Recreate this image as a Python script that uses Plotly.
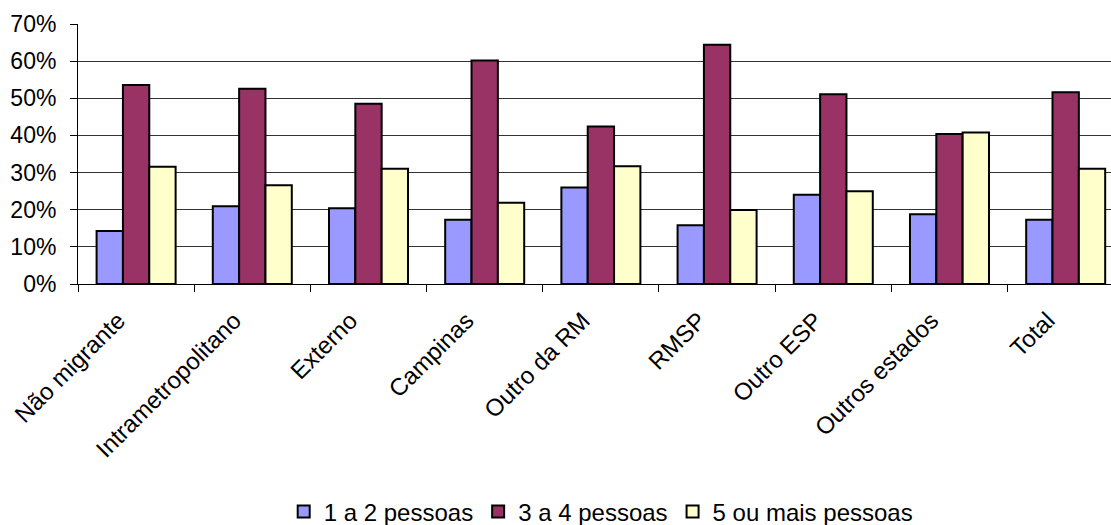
import plotly.graph_objects as go

# Categories of migration status
categorias = ["Não migrante", "Intrametropolitano", "Externo", "Campinas",
              "Outro da RM", "RMSP", "Outro ESP", "Outros estados", "Total"]

# Share of households by household size (fractions)
pessoas_1a2 = [0.143, 0.209, 0.204, 0.173, 0.260, 0.158, 0.240, 0.188, 0.173]
pessoas_3a4 = [0.536, 0.526, 0.485, 0.602, 0.424, 0.644, 0.511, 0.404, 0.516]
pessoas_5mais = [0.316, 0.266, 0.310, 0.219, 0.317, 0.199, 0.250, 0.408, 0.310]

series = [
    ("1 a 2 pessoas", pessoas_1a2, "#9999FF"),
    ("3 a 4 pessoas", pessoas_3a4, "#993366"),
    ("5 ou mais pessoas", pessoas_5mais, "#FFFFCC"),
]

FONT = "Liberation Sans, Arial, sans-serif"

fig = go.Figure()
for nome, valores, cor in series:
    fig.add_trace(go.Bar(
        x=categorias, y=valores, name=nome,
        marker=dict(color=cor, line=dict(color="black", width=2)),
    ))

fig.update_layout(
    width=1111, height=525,
    margin=dict(l=78, r=0, t=24, b=241, autoexpand=False),
    paper_bgcolor="white", plot_bgcolor="white",
    barmode="group", bargap=0.32, bargroupgap=0,
    font=dict(family=FONT, size=22, color="black"),
    showlegend=True,
    legend=dict(
        orientation="h", x=0.506, xanchor="center", y=-0.877, yanchor="middle",
        font=dict(family=FONT, size=24, color="black"),
        itemwidth=30, tracegroupgap=0,
    ),
)

fig.update_xaxes(
    range=[-0.5, 8.39], automargin=False,
    tickangle=-45,
    tickfont=dict(family=FONT, size=24, color="black"),
    ticks="outside", tickson="boundaries", ticklen=7, tickcolor="black",
    ticklabelshift=-18, ticklabelstandoff=12,
    showline=True, linecolor="black", linewidth=1,
    showgrid=False,
)

fig.update_yaxes(
    range=[0, 0.7], dtick=0.1, tickformat=".0%", automargin=False,
    tickfont=dict(family=FONT, size=23, color="black"),
    ticks="outside", ticklen=7, tickcolor="black", ticklabelstandoff=9,
    showline=True, linecolor="black", linewidth=1,
    showgrid=True, gridcolor="#333333", gridwidth=1,
    zeroline=False,
)

fig.write_html("out.html")
